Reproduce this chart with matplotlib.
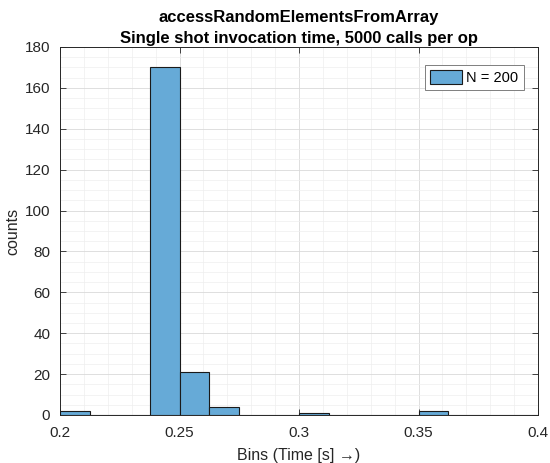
import numpy as np
import matplotlib
matplotlib.use("Agg")
import matplotlib.pyplot as plt
from matplotlib.ticker import MultipleLocator

# histogram bins (seconds) and counts per bin
bin_edges = [0.2, 0.2125, 0.225, 0.2375, 0.25, 0.2625, 0.275, 0.2875, 0.3,
             0.3125, 0.325, 0.3375, 0.35, 0.3625, 0.375, 0.3875, 0.4]
counts = [2, 0, 0, 170, 21, 4, 0, 0, 1, 0, 0, 0, 2, 0, 0, 0]
x_ticks = [0.2, 0.25, 0.3, 0.35, 0.4]
y_ticks = list(range(0, 181, 20))
series_label = "N = 200"

plt.rcParams["font.family"] = ["Liberation Sans", "DejaVu Sans"]
ink = "#262626"
bar_color = (0.4, 0.668, 0.845)


def draw():
    fig = plt.figure(figsize=(5.5, 4.63), dpi=100)
    ax = fig.add_axes([60 / 550, 1 - 415 / 463, 478 / 550, 368 / 463])

    edges = np.array(bin_edges)
    ax.bar(edges[:-1], counts, width=np.diff(edges), align="edge",
           color=bar_color, edgecolor="#1a1a1a", linewidth=0.8,
           label=series_label, zorder=3)

    ax.set_xlim(0.2, 0.4)
    ax.set_ylim(0, 180)
    ax.set_xticks(x_ticks)
    ax.set_xticklabels([f"{t:g}" for t in x_ticks])
    ax.set_yticks(y_ticks)
    ax.xaxis.set_minor_locator(MultipleLocator(0.01))
    ax.yaxis.set_minor_locator(MultipleLocator(5))

    ax.grid(True, which="major", color="#d9d9d9", linewidth=0.6, zorder=0)
    ax.grid(True, which="minor", color="#eeeeee", linewidth=0.5, zorder=0)
    ax.set_axisbelow(True)

    ax.tick_params(which="both", direction="in", top=True, right=True,
                   colors=ink, labelsize=11, labelcolor=ink)
    ax.tick_params(which="major", length=4, width=0.6)
    ax.tick_params(which="minor", length=0)
    ax.tick_params(axis="x", pad=8)
    ax.tick_params(axis="y", pad=7)
    for s in ax.spines.values():
        s.set_color(ink)
        s.set_linewidth(0.7)

    ax.set_xlabel("Bins (Time [s] \u2192)", fontsize=11.5, color=ink,
                  labelpad=6)
    ax.set_ylabel("counts", fontsize=11.5, color=ink, labelpad=3)
    ax.set_title("accessRandomElementsFromArray\n"
                 "Single shot invocation time, 5000 calls per op",
                 fontsize=12, fontweight="bold", color="black",
                 linespacing=1.45, pad=3)

    leg = ax.legend(loc="upper right", fontsize=10.5, fancybox=False,
                    framealpha=1, edgecolor="#7f7f7f",
                    handlelength=2.2, handleheight=1.1,
                    borderpad=0.35, handletextpad=0.3,
                    bbox_to_anchor=(0.985, 0.97))
    leg.get_frame().set_linewidth(0.7)

    fig.savefig("out.png", dpi=100, facecolor="white")


if __name__ == "__main__":
    draw()
